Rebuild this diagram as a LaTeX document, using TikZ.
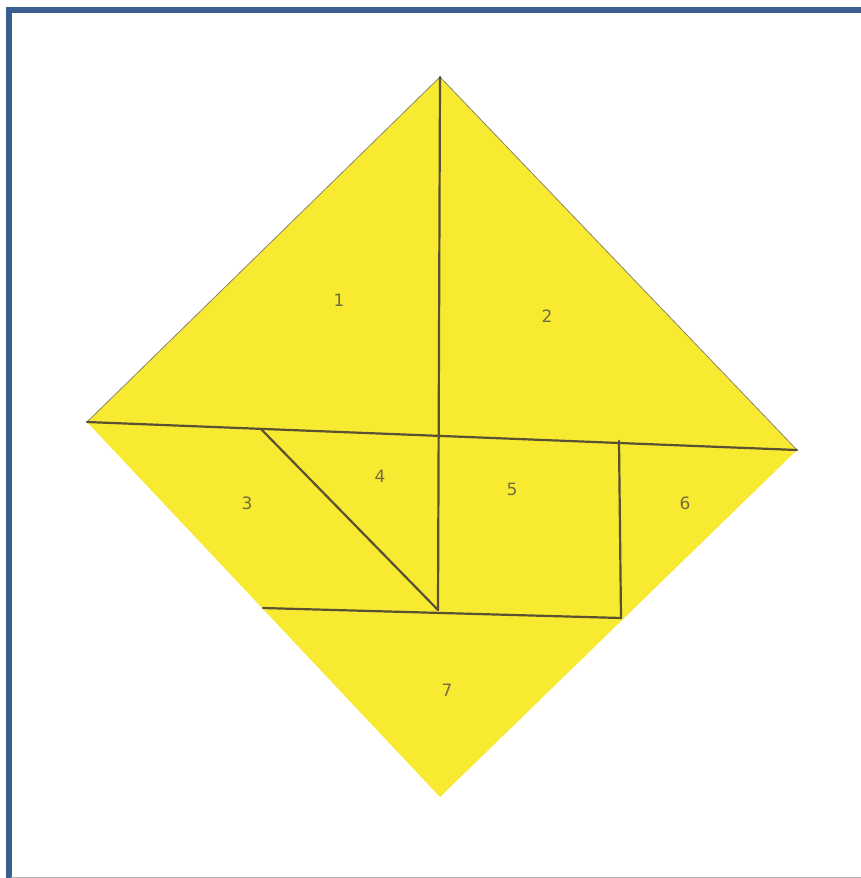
\documentclass[tikz,border=0pt]{standalone}
\usepackage{fontspec}
\setmainfont{DejaVu Sans}
\definecolor{paper}{RGB}{248,234,48}
\definecolor{pencil}{RGB}{90,80,50}
\definecolor{framecol}{RGB}{58,95,143}
\definecolor{numcol}{RGB}{115,110,65}
\begin{document}
\begin{tikzpicture}[x=1pt,y=-1pt,
  cut/.style={draw=pencil,line width=2.2pt,line cap=round},
  num/.style={text=numcol,font=\fontsize{17}{17}\selectfont}]
\useasboundingbox (0,0) rectangle (861,878);
\fill[white] (0,0) rectangle (861,878);
% frame
\fill[framecol] (6,7) rectangle (11.5,878);
\fill[framecol] (6,7) rectangle (861,12.5);
\draw[gray!60,line width=1pt] (11,877.5) -- (861,877.5);
% key points
\coordinate (T) at (440,77);
\coordinate (L) at (87,422);
\coordinate (R) at (797,450);
\coordinate (B) at (440,797);
\coordinate (C) at (440,435.5);
\coordinate (P) at (261,429);
\coordinate (M) at (438,610);
\coordinate (Q) at (619,441);
\coordinate (S) at (621,618);
\coordinate (U) at (263,608);
% paper
\fill[paper] (T) -- (R) -- (B) -- (L) -- cycle;
\draw[pencil!70,line width=0.8pt] (T) -- (R);
\draw[pencil!70,line width=0.8pt] (T) -- (L);
% cuts
\draw[cut] (L) -- (R);
\draw[cut] (T) -- (M);
\draw[cut] (P) -- (M);
\draw[cut] (Q) -- (S);
\draw[cut] (U) -- (S);
% labels
\node[num] (n1) at (339,300) {1};
\node[num] (n2) at (547,316) {2};
\node[num] (n3) at (247,503) {3};
\node[num] (n4) at (380,476) {4};
\node[num] (n5) at (512,489) {5};
\node[num] (n6) at (685,503) {6};
\node[num] (n7) at (447,690) {7};
\end{tikzpicture}
\end{document}
